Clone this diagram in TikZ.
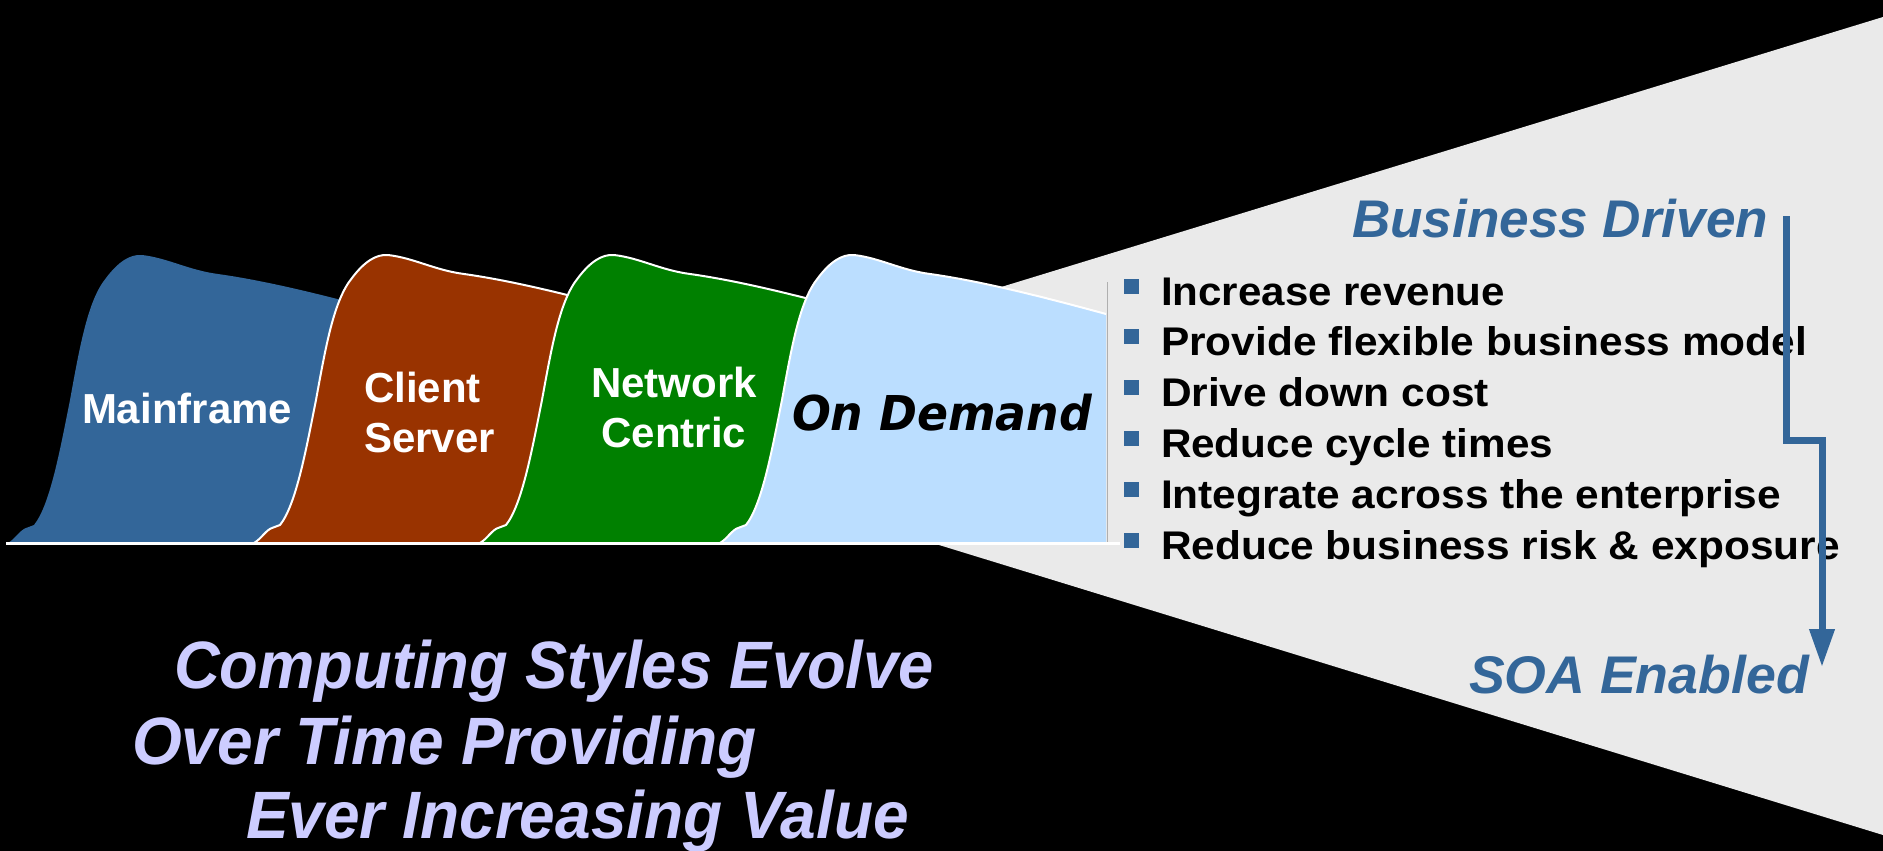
\documentclass[tikz,border=0pt]{standalone}
\usepackage{fontspec}
\setmainfont{Liberation Sans}
\newfontfamily\dvsfont{DejaVu Sans}
\usepackage{graphicx}
\usetikzlibrary{arrows.meta}
\definecolor{ibmblue}{RGB}{51,102,153}
\definecolor{rust}{RGB}{153,51,0}
\definecolor{ngreen}{RGB}{0,128,0}
\definecolor{skyblue}{RGB}{187,222,255}
\definecolor{funnel}{RGB}{234,234,234}
\definecolor{lavender}{RGB}{204,204,255}
\definecolor{divider}{RGB}{175,175,175}
\newcommand\fsz[1]{\fontsize{#1}{#1}\selectfont}
\newcommand\fitto[2]{\resizebox{#1}{\height}{#2}}
\newcommand\humpcurve{(0,543) .. controls (7,539) and (12,530) .. (18,528) -- (26,525) .. controls (42,505) and (52,450) .. (62,400) .. controls (72,345) and (80,300) .. (98,278) .. controls (110,262) and (122,254) .. (134,255) .. controls (160,258) and (180,270) .. (210,274) .. controls (260,281) and (320,296) .. (386,314)}
\tikzset{
  txt/.style={inner sep=0pt, outer sep=0pt},
  lbl/.style={txt, text=white, font=\fontsize{42}{50}\selectfont\bfseries},
  item/.style={txt, anchor=base west, text=black, font=\fsz{40}\bfseries},
  bulletbox/.style={fill=ibmblue, draw=none, minimum size=15pt, inner sep=0pt},
  stage/.style={txt, anchor=base west, text=ibmblue, font=\fsz{53}\bfseries\itshape},
  slogan/.style={txt, anchor=base west, text=lavender, font=\fsz{67}\bfseries\itshape},
  outline/.style={draw=white, line width=2pt},
  flow/.style={draw=ibmblue, line width=7pt, -{Triangle[width=24pt,length=38pt]}}
}
\begin{document}
\begin{tikzpicture}[x=1pt, y=-1pt]
\useasboundingbox (0,0) rectangle (1883,851);
\fill[black] (0,0) rectangle (1883,851);
% funnel
\fill[funnel] (900,318) -- (1883,17) -- (1883,835) -- (900,533) -- cycle;
% computing styles
\begin{scope}[xshift=8pt]
  \fill[ibmblue] \humpcurve -- (386,543) -- cycle;
\end{scope}
\begin{scope}[xshift=254pt]
  \fill[rust] \humpcurve -- (386,543) -- cycle;
  \draw[outline] \humpcurve;
\end{scope}
\begin{scope}[xshift=480pt]
  \fill[ngreen] \humpcurve -- (386,543) -- cycle;
  \draw[outline] \humpcurve;
\end{scope}
\begin{scope}[xshift=720pt]
  \fill[skyblue] \humpcurve -- (386,543) -- cycle;
  \draw[outline] \humpcurve;
\end{scope}
\draw[divider, line width=1pt] (1107,282) -- (1107,543);
\draw[white, line width=3pt] (6,543) -- (1120,543);
% labels
\node[lbl, anchor=base west] (mainframe) at (82,423) {Mainframe};
\node[lbl, anchor=base west] (client) at (364,402) {\begin{tabular}[t]{@{}l@{}}Client\\Server\end{tabular}};
\node[lbl, anchor=base] (network) at (674,397) {\begin{tabular}[t]{@{}c@{}}Network\\Centric\end{tabular}};
\node[txt, anchor=base west, text=black] (ondemand) at (792,430) {\fitto{300pt}{\dvsfont\fsz{48}\bfseries\itshape On Demand}};
% bullets
\foreach \i/\y/\w/\t in {1/305/344/{Increase revenue},2/355/646/{Provide flexible business model},3/406/328/{Drive down cost},4/457/392/{Reduce cycle times},5/508/620/{Integrate across the enterprise},6/559/679/{Reduce business risk \& exposure}}{
  \node[item] (t\i) at (1161,\y) {\fitto{\w pt}{\t}};
  \node[bulletbox] (b\i) at (1131.5,\y-18.5) {};
}
% stage labels
\node[stage] (bizdriven) at (1352,237) {\fitto{416pt}{Business Driven}};
\node[stage] (soa) at (1469,693) {\fitto{340pt}{SOA Enabled}};
% slogan
\node[slogan] (s1) at (174,688) {\fitto{760pt}{Computing Styles Evolve}};
\node[slogan] (s2) at (132,764) {\fitto{625pt}{Over Time Providing}};
\node[slogan] (s3) at (246,838) {\fitto{663pt}{Ever Increasing Value}};
% arrow
\coordinate (arrowstart) at (1786,216);
\coordinate (jogtop) at (1786,440);
\coordinate (jogbottom) at (1822,440);
\coordinate (arrowend) at (1822,667);
\draw[flow] (arrowstart) -- (jogtop) -- (jogbottom) -- (arrowend);
\end{tikzpicture}
\end{document}
